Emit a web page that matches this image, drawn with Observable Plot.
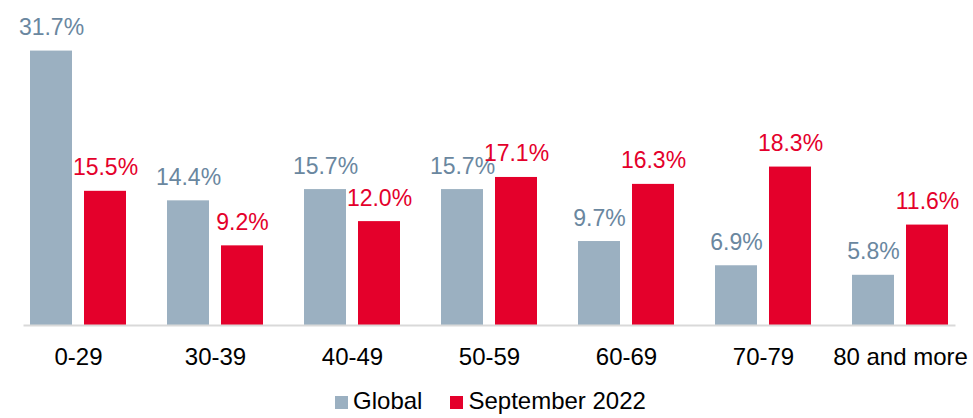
<!DOCTYPE html>
<html>
<head>
<meta charset="utf-8">
<script src="https://cdn.jsdelivr.net/npm/d3@7"></script>
<script src="https://cdn.jsdelivr.net/npm/@observablehq/plot@0.6"></script>
<style>
  html, body { margin: 0; padding: 0; background: #fff; }
  body { width: 973px; height: 418px; overflow: hidden; font-family: "Liberation Sans", Arial, sans-serif; }
  #legend { display: flex; justify-content: center; align-items: center; height: 28px; margin-top: 12px; font-size: 24px; line-height: 28px; color: #000; gap: 28px; padding-left: 8px; }
  #legend .item { display: flex; align-items: center; }
  #legend .sw { width: 13px; height: 13px; margin-right: 5px; margin-top: 3px; }
</style>
</head>
<body>
<div id="chart"></div>
<div id="legend"></div>
<script>
const categories = ["0-29", "30-39", "40-49", "50-59", "60-69", "70-79", "80 and more"];
const seriesNames = ["Global", "September 2022"];
const globalValues = [31.7, 14.4, 15.7, 15.7, 9.7, 6.9, 5.8];
const septemberValues = [15.5, 9.2, 12.0, 17.1, 16.3, 18.3, 11.6];
const barColors = ["#9bb0c1", "#e4002b"];
const labelColors = ["#6a879f", "#e4002b"];

const data = [];
categories.forEach((c, i) => {
  data.push({category: c, series: seriesNames[0], value: globalValues[i]});
  data.push({category: c, series: seriesNames[1], value: septemberValues[i]});
});

const fmt = v => d3.format(".1f")(v) + "%";

const chart = Plot.plot({
  width: 973,
  height: 375,
  marginTop: 22,
  marginBottom: 50,
  marginLeft: 9,
  marginRight: 4,
  style: {fontFamily: "Liberation Sans, Arial, sans-serif", fontSize: "24px", color: "#000", background: "#fff"},
  fx: {domain: categories, paddingInner: 0.21, paddingOuter: 0.105, axis: "bottom", tickSize: 0, tickPadding: 22, label: null},
  x: {domain: seriesNames, paddingInner: 0.222, paddingOuter: 0.111, axis: null},
  y: {domain: [0, 35], axis: null},
  color: {domain: seriesNames, range: barColors},
  marks: [
    Plot.barY(data, {fx: "category", x: "series", y: "value", fill: "series"}),
    Plot.frame({anchor: "bottom", facet: "super", stroke: "#d9d9d9", strokeWidth: 2}),
    Plot.text(data, {
      fx: "category", x: "series", y: "value",
      text: d => fmt(d.value),
      fill: d => labelColors[seriesNames.indexOf(d.series)],
      lineAnchor: "bottom", dy: -16, fontSize: 23
    })
  ]
});
document.getElementById("chart").appendChild(chart);

const legend = document.getElementById("legend");
seriesNames.forEach((s, i) => {
  const item = document.createElement("div");
  item.className = "item";
  const sw = document.createElement("div");
  sw.className = "sw";
  sw.style.background = barColors[i];
  const t = document.createElement("span");
  t.textContent = s;
  item.appendChild(sw);
  item.appendChild(t);
  legend.appendChild(item);
});
</script>
</body>
</html>
